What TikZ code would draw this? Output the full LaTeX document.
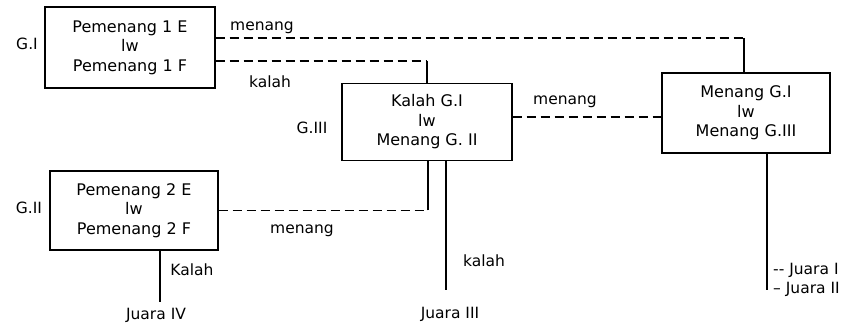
\documentclass[tikz,border=0pt]{standalone}
\usepackage{fontspec}
\setmainfont{DejaVu Sans}
\begin{document}
\begin{tikzpicture}[x=1pt,y=-1pt,
  every node/.style={font=\fontsize{16}{19.5}\selectfont, inner sep=0pt},
  match/.style={draw, line width=1.2pt, align=center},
  link/.style={line width=1.2pt},
  dashlink/.style={line width=1.2pt, dash pattern=on 9pt off 5pt},
  lbl/.style={font=\fontsize{15.5}{18}\selectfont}]
  \useasboundingbox (0,0) rectangle (865,328);

  % match boxes
  \node[match, minimum width=170pt, minimum height=81pt] (g1) at (130,47.5)
    {Pemenang 1 E\\lw\\Pemenang 1 F};
  \node[match, minimum width=170pt, minimum height=77pt] (g3) at (427,122)
    {Kalah G.I\\lw\\Menang G. II};
  \node[match, minimum width=168pt, minimum height=80pt] (gw) at (746,113)
    {Menang G.I\\lw\\Menang G.III};
  \node[match, minimum width=168pt, minimum height=79pt] (g2) at (134,210.5)
    {Pemenang 2 E\\lw\\Pemenang 2 F};

  % round labels
  \node[lbl] (l1) at (27,44) {G.I};
  \node[lbl] (l2) at (29,208) {G.II};
  \node[lbl] (l3) at (312,128) {G.III};

  % junction points
  \path (g1.east) ++(0,-9.5) coordinate (g1a);
  \path (g1.east) ++(0,13.5) coordinate (g1b);
  \coordinate (c1) at (744,38);
  \coordinate (c2) at (427,61);
  \path (g3.east) ++(0,-5) coordinate (g3a);
  \path (g2.east) ++(0,0) coordinate (g2a);
  \coordinate (c3) at (428,210.5);
  \path (g2.south) ++(26,0) coordinate (g2b);
  \coordinate (e4) at (160,302);
  \coordinate (g3b) at (446,0);
  \coordinate (e3) at (446,290);
  \coordinate (gwb) at (767,0);
  \coordinate (ew) at (767,290);

  % connectors
  \draw[dashlink] (g1a) -- (c1);
  \draw[link] (c1) -- (c1 |- gw.north);
  \draw[dashlink] (g1b) -- (c2);
  \draw[link] (c2) -- (c2 |- g3.north);
  \draw[dashlink] (g3a) -- (g3a -| gw.west);
  \draw[dashlink] (g2a) -- (c3);
  \draw[link] (c3) -- (c3 |- g3.south);
  \draw[link] (g2b) -- (e4);
  \draw[link] (g3b |- g3.south) -- (e3);
  \draw[link] (gwb |- gw.south) -- (ew);

  % connector labels
  \node[lbl] (t1) at (262,28) {menang};
  \node[lbl] (t2) at (270,82) {kalah};
  \node[lbl] (t3) at (565,102) {menang};
  \node[lbl] (t4) at (302,231) {menang};
  \node[lbl] (t5) at (192,270) {Kalah};
  \node[lbl] (t6) at (484,261) {kalah};

  % results
  \node[lbl] (j4) at (156,315) {Juara IV};
  \node[lbl] (j3) at (450,314) {Juara III};
  \node[lbl, anchor=west] (j1) at (773,270) {-{}- Juara I};
  \node[lbl, anchor=west] (j2) at (773,289) {– Juara II};
\end{tikzpicture}
\end{document}
